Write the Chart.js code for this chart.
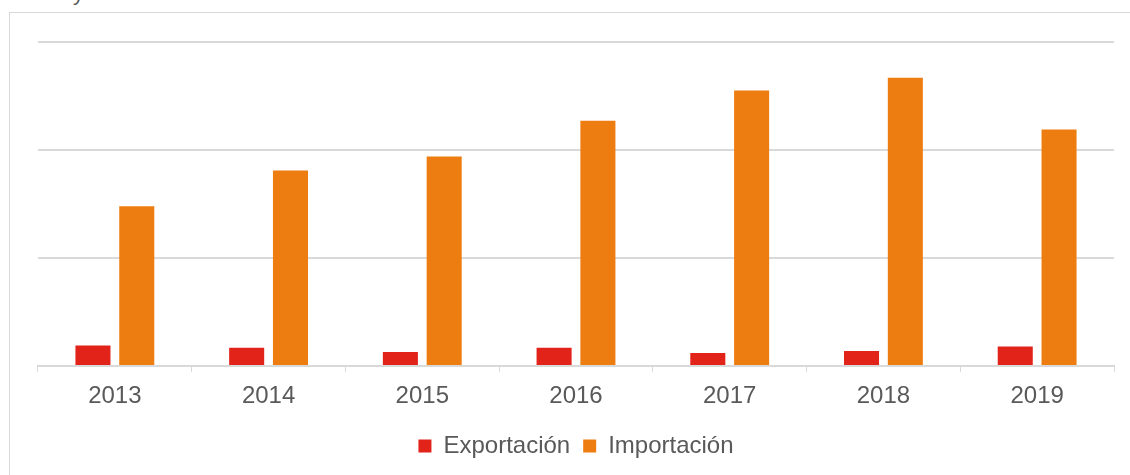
<!DOCTYPE html>
<html>
<head>
<meta charset="utf-8">
<script src="https://cdn.jsdelivr.net/npm/chart.js@4"></script>
<style>
  html, body { margin: 0; padding: 0; background: #fff; }
  #wrap { position: relative; width: 1130px; height: 475px; overflow: hidden; }
  #frame { position: absolute; left: 9px; top: 12px; right: -2px; bottom: -2px; border-left: 1px solid #d9d9d9; border-top: 1px solid #d9d9d9; }
  #cut { position: absolute; left: 73px; top: -20px; font: 22px "Liberation Sans", Arial, sans-serif; color: #595959; }
  canvas { position: absolute; left: 0; top: 0; }
</style>
</head>
<body>
<div id="wrap">
  <div id="cut">y</div>
  <div id="frame"></div>
  <canvas id="c" width="1130" height="475"></canvas>
</div>
<script>
// years and series (axis units unknown, one gridline = 1)
const years = ['2013', '2014', '2015', '2016', '2017', '2018', '2019'];
const exportacion = [0.19, 0.17, 0.13, 0.17, 0.12, 0.14, 0.18];
const importacion = [1.48, 1.81, 1.94, 2.27, 2.55, 2.67, 2.19];
const yMax = 3;
const yStep = 1;

const grey = '#d9d9d9';
const textGrey = '#595959';
const font = '"Liberation Sans", Arial, sans-serif';

new Chart(document.getElementById('c'), {
  type: 'bar',
  data: {
    labels: years,
    datasets: [
      { label: 'Exportación', data: exportacion, backgroundColor: '#e2231a', categoryPercentage: 0.57, barPercentage: 0.8 },
      { label: 'Importación', data: importacion, backgroundColor: '#ee7d11', categoryPercentage: 0.57, barPercentage: 0.8 },
    ],
  },
  options: {
    responsive: false, animation: false,
    layout: { padding: { left: 38, right: 16, top: 42, bottom: 7 } },
    plugins: {
      legend: {
        position: 'bottom',
        labels: { color: textGrey, font: { family: font, size: 24 }, boxWidth: 13, boxHeight: 13, padding: 13 },
      },
      tooltip: { enabled: false },
    },
    scales: {
      x: {
        grid: { drawOnChartArea: false, drawTicks: true, tickLength: 6, color: grey },
        border: { color: grey, width: 2 },
        ticks: { color: textGrey, font: { family: font, size: 24 }, padding: 10 },
        afterFit(s) { s.height = 55; },
      },
      y: {
        min: 0, max: yMax,
        ticks: { display: false, stepSize: yStep },
        grid: { color: grey, lineWidth: 2, drawTicks: false, tickLength: 0 },
        border: { display: false },
        afterFit(s) { s.width = 0; },
      },
    },
  },
});
</script>
</body>
</html>
